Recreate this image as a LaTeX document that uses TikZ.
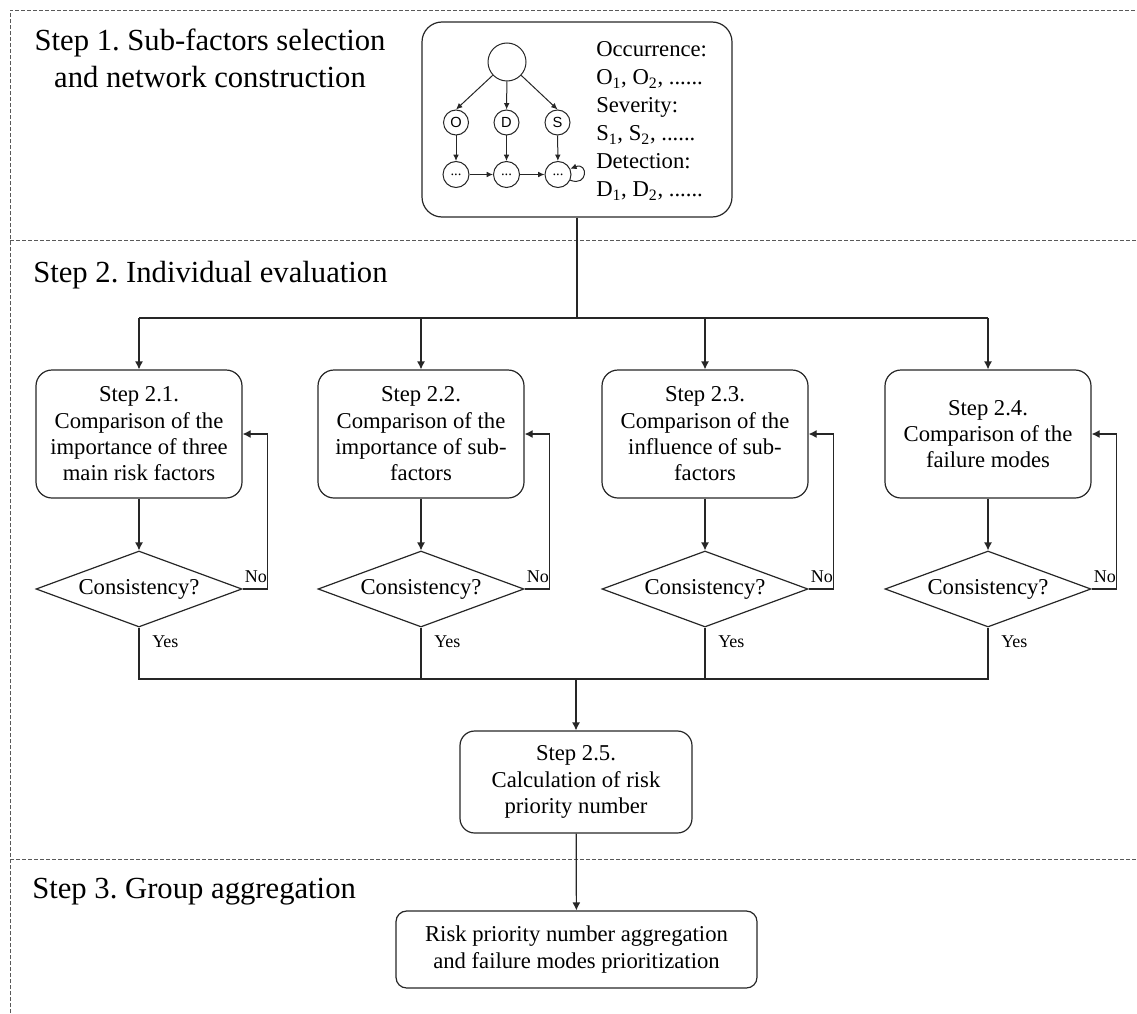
\documentclass[tikz,border=0pt]{standalone}
\usepackage{fontspec}
\setmainfont{Liberation Serif}
\newfontfamily\netsans{Liberation Sans}
\usetikzlibrary{arrows.meta,shapes.geometric}
\frenchspacing
\begin{document}
\begin{tikzpicture}[x=0.75pt,y=-0.75pt,
  frameline/.style={draw=black!65, line width=0.6pt, dash pattern=on 3pt off 1.5pt},
  conn/.style={draw=black!85, line width=0.9pt},
  arr/.style={conn, -{Latex[length=6pt,width=6pt]}},
  netarr/.style={draw=black!85, line width=0.75pt, -{Latex[length=4.8pt,width=4.3pt]}},
  hdr/.style={inner sep=0pt, font=\fontsize{23}{27.75}\selectfont},
  procbox/.style={draw=black!85, line width=0.9pt, rounded corners=12pt, minimum width=154.5pt, minimum height=96pt, align=center, inner sep=0pt, font=\fontsize{17}{19.7}\selectfont},
  decision/.style={diamond, draw=black!85, line width=0.9pt, aspect=2.71, minimum width=154.5pt, minimum height=57pt, inner sep=0pt, font=\fontsize{17}{19.7}\selectfont},
  lab/.style={inner sep=0pt, font=\fontsize{13.5}{15}\selectfont},
  netc/.style={circle, draw=black!85, line width=0.75pt, inner sep=0pt, font=\netsans\fontsize{11}{13}\selectfont},
  netdots/.style={circle, draw=black!85, line width=0.75pt, inner sep=0pt, font=\fontsize{11}{13}\selectfont}
]
\useasboundingbox (0,0) rectangle (1137,1013);

% dashed frame
\draw[frameline] (10,1013) -- (10,10) -- (1137,10);
\draw[frameline] (10,240) -- (1137,240);
\draw[frameline] (10,859) -- (1137,859);

% headers
\node[hdr, anchor=north, align=center] (h1) at (210,29) {Step 1. Sub-factors selection\\and network construction};
\node[hdr, anchor=base west] (h2) at (33,282) {Step 2. Individual evaluation};
\node[hdr, anchor=base west] (h3) at (32,898) {Step 3. Group aggregation};

% network box
\node[draw=black!85, line width=0.9pt, rounded corners=15pt, minimum width=232.5pt, minimum height=146.25pt] (net) at (577,119.5) {};
\node[netc, minimum size=28.5pt] (root) at (507,62) {};
\node[netc, minimum size=18.75pt] (nO) at (456,122.5) {O};
\node[netc, minimum size=18.75pt] (nD) at (506.5,122.5) {D};
\node[netc, minimum size=18.75pt] (nS) at (557.5,122.5) {S};
\node[netdots, minimum size=19.5pt] (m1) at (456,174.5) {...};
\node[netdots, minimum size=19.5pt] (m2) at (506.5,174.5) {...};
\node[netdots, minimum size=19.5pt] (m3) at (558,174.5) {...};
\draw[netarr] (root) -- (nO.north);
\draw[netarr] (root) -- (nD);
\draw[netarr] (root) -- (nS.north);
\draw[netarr] (nO) -- (m1);
\draw[netarr] (nD) -- (m2);
\draw[netarr] (nS) -- (m3);
\draw[netarr] (m1) -- (m2);
\draw[netarr] (m2) -- (m3);
\draw[netarr] (m3.-25) .. controls +(18,7) and +(18,-7) .. (m3.25);
\node[anchor=north west, inner sep=0pt, align=left, font=\fontsize{17}{21}\selectfont] (factors) at (596,41.5)
  {Occurrence:\\O\textsubscript{1}, O\textsubscript{2}, ......\\Severity:\\S\textsubscript{1}, S\textsubscript{2}, ......\\Detection:\\D\textsubscript{1}, D\textsubscript{2}, ......};

% step 2 boxes
\node[procbox] (b1) at (139,434) {Step 2.1.\\Comparison of the\\importance of three\\main risk factors};
\node[procbox] (b2) at (421,434) {Step 2.2.\\Comparison of the\\importance of sub-\\factors};
\node[procbox] (b3) at (705,434) {Step 2.3.\\Comparison of the\\influence of sub-\\factors};
\node[procbox] (b4) at (988,434) {Step 2.4.\\Comparison of the\\failure modes};

\node[decision] (d1) at (139,589) {Consistency?};
\node[decision] (d2) at (421,589) {Consistency?};
\node[decision] (d3) at (705,589) {Consistency?};
\node[decision] (d4) at (988,589) {Consistency?};

% top bus
\coordinate (busL) at (139,318);
\coordinate (busR) at (988,318);
\draw[conn] (net.south) -- (net.south |- busL);
\draw[conn] (busL) -- (busR);
\foreach \b in {b1,b2,b3,b4} {
  \draw[arr] (\b.north |- busL) -- (\b.north);
}

% box -> decision and feedback loops
\foreach \i in {1,2,3,4} {
  \draw[arr] (b\i) -- (d\i);
  \draw[arr] (d\i.east) -- ++(25,0) |- (b\i.east);
  \node[lab, anchor=base west, xshift=1.5pt, yshift=5pt] (no\i) at (d\i.east) {No};
  \node[lab, anchor=base west, xshift=9.75pt, yshift=-15pt] (yes\i) at (d\i.south) {Yes};
}

% bottom bus
\coordinate (bus2) at (576,679);
\draw[conn] (d1.south) -- (d1.south |- bus2) -- (d4.south |- bus2) -- (d4.south);
\draw[conn] (d2.south) -- (d2.south |- bus2);
\draw[conn] (d3.south) -- (d3.south |- bus2);

\node[procbox, rounded corners=11pt, minimum width=174pt, minimum height=76.5pt] (calc) at (576,782) {Step 2.5.\\Calculation of risk\\priority number};
\node[procbox, rounded corners=8pt, minimum width=270.75pt, minimum height=57.75pt] (agg) at (576.5,949.5) {Risk priority number aggregation\\and failure modes prioritization};

\draw[arr] (bus2) -- (calc.north);
\draw[arr] (calc) -- (agg);
\end{tikzpicture}
\end{document}
